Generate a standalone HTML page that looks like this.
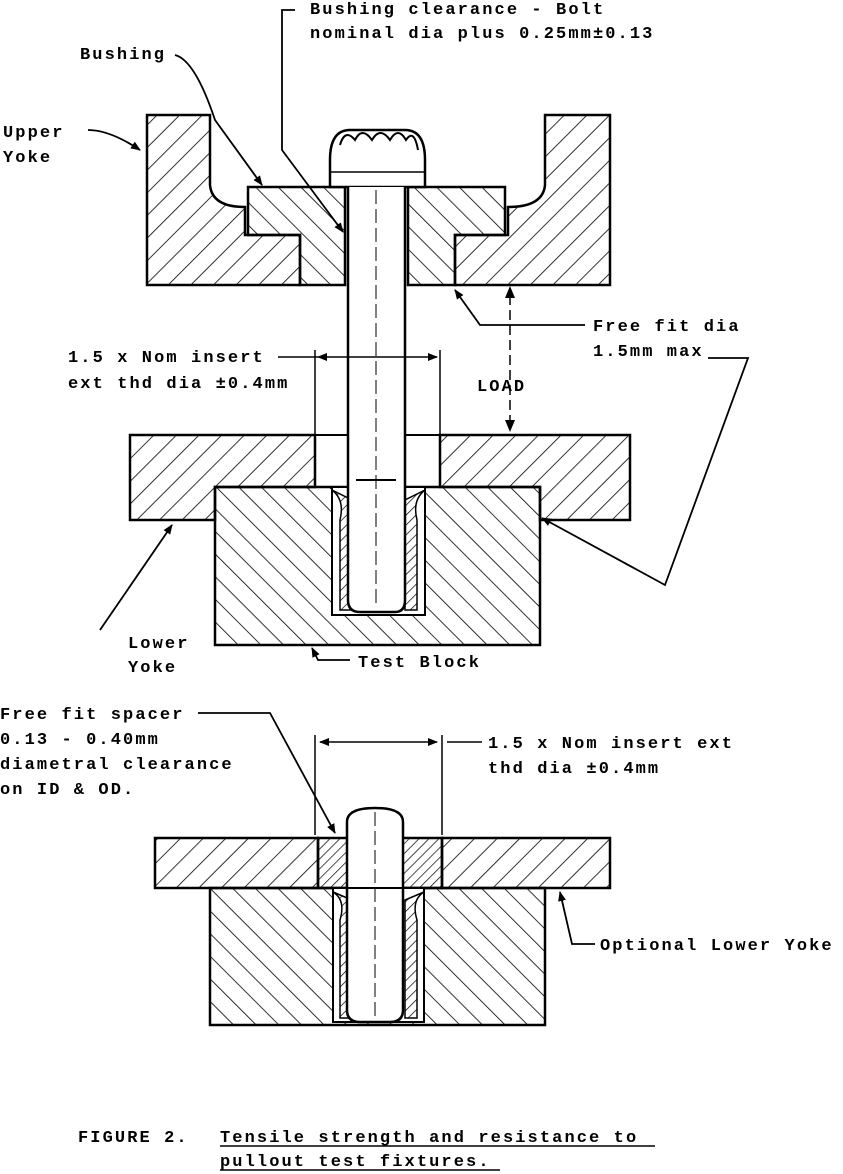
<!DOCTYPE html>
<html><head><meta charset="utf-8"><style>
html,body{margin:0;padding:0;background:#fff}
svg{display:block}
text{font-family:"Liberation Mono",monospace;font-size:17px;letter-spacing:2.1px;font-weight:bold;fill:#000}
</style></head><body>
<svg width="843" height="1174" viewBox="0 0 843 1174" xmlns="http://www.w3.org/2000/svg">
<defs>
<pattern id="hf" width="16" height="16" patternUnits="userSpaceOnUse" patternTransform="rotate(45)">
<line x1="0" y1="0" x2="0" y2="16" stroke="#000" stroke-width="1.6"/></pattern>
<pattern id="hb" width="16" height="16" patternUnits="userSpaceOnUse" patternTransform="rotate(-45)">
<line x1="0" y1="0" x2="0" y2="16" stroke="#000" stroke-width="1.6"/></pattern>
<pattern id="hs" width="7" height="7" patternUnits="userSpaceOnUse" patternTransform="rotate(45)">
<line x1="0" y1="0" x2="0" y2="7" stroke="#000" stroke-width="1.4"/></pattern>
<marker id="ar" markerWidth="10" markerHeight="10" refX="9" refY="5" orient="auto" markerUnits="userSpaceOnUse">
<path d="M0,1 L10,5 L0,9 Z" fill="#000"/></marker>
</defs>
<g stroke="#000" stroke-width="2.5" fill="url(#hf)">
<path d="M147,115 H210 V185 Q212,207 245,207 V235 H300 V285 H147 Z"/>
<path d="M610,115 H545 V185 Q543,207 508,207 V235 H455 V285 H610 Z"/>
</g>
<g stroke="#000" stroke-width="2.5" fill="url(#hb)">
<path d="M248,187 H345 V285 H300 V235 H248 Z"/>
<path d="M408,187 H505 V235 H455 V285 H408 Z"/>
</g>
<path d="M330,187 V160 Q330,130 350,130 H405 Q425,130 425,160 V187 Z" fill="#fff" stroke="#000" stroke-width="2.5"/>
<path d="M340,145 Q345,128 355,140 Q362,126 372,140 Q380,126 390,140 Q398,126 406,140 Q414,128 418,150" fill="none" stroke="#000" stroke-width="2"/>
<line x1="330" y1="172" x2="425" y2="172" stroke="#000" stroke-width="1.5"/>
<path d="M130,435 H315 V487 H215 V520 H130 Z" fill="url(#hf)" stroke="#000" stroke-width="2.5"/>
<path d="M440,435 H630 V520 H540 V487 H440 Z" fill="url(#hf)" stroke="#000" stroke-width="2.5"/>
<line x1="315" y1="435" x2="440" y2="435" stroke="#000" stroke-width="2"/>
<line x1="315" y1="350" x2="315" y2="487" stroke="#000" stroke-width="1.5"/>
<line x1="440" y1="350" x2="440" y2="487" stroke="#000" stroke-width="1.5"/>
<path d="M215,487 H540 V645 H215 Z" fill="url(#hb)" stroke="#000" stroke-width="2.5"/>
<path d="M332,487 H425 V615 H332 Z" fill="#fff" stroke="#000" stroke-width="2"/>
<path d="M332,490 Q345,500 340,520 V610 H352 V500 Z" fill="url(#hs)" stroke="#000" stroke-width="1.5"/>
<path d="M425,490 Q412,500 417,520 V610 H405 V500 Z" fill="url(#hs)" stroke="#000" stroke-width="1.5"/>
<path d="M348,187 V600 Q348,612 360,612 H395 Q405,612 405,600 V187" fill="#fff" stroke="#000" stroke-width="2.5"/>
<line x1="356" y1="480" x2="396" y2="480" stroke="#000" stroke-width="2"/>
<line x1="376" y1="190" x2="376" y2="605" stroke="#000" stroke-width="1" stroke-dasharray="14,5"/>
<line x1="330" y1="357" x2="437" y2="357" stroke="#000" stroke-width="1.5" marker-end="url(#ar)"/>
<line x1="330" y1="357" x2="318" y2="357" stroke="#000" stroke-width="1.5" marker-end="url(#ar)"/>
<line x1="278" y1="357" x2="318" y2="357" stroke="#000" stroke-width="1.5"/>
<line x1="510" y1="295" x2="510" y2="425" stroke="#000" stroke-width="1.5" stroke-dasharray="10,5"/>
<path d="M510,286 l-5,12 h10 z M510,432 l-5,-12 h10 z"/>
<g fill="none" stroke="#000" stroke-width="1.8">
<path d="M88,130 Q110,130 140,150" marker-end="url(#ar)"/>
<path d="M175,55 Q195,60 215,120 L262,185" marker-end="url(#ar)"/>
<path d="M295,10 H282 V150 L343,232" marker-end="url(#ar)"/>
<path d="M585,325 H480 L455,290" marker-end="url(#ar)"/>
<path d="M708,358 H748 L665,585 L542,518" marker-end="url(#ar)"/>
<path d="M100,630 L172,525" marker-end="url(#ar)"/>
<path d="M350,660 H318 L312,648" marker-end="url(#ar)"/>
</g>
<path d="M155,838 H318 V888 H155 Z" fill="url(#hf)" stroke="#000" stroke-width="2.5"/>
<path d="M442,838 H610 V888 H442 Z" fill="url(#hf)" stroke="#000" stroke-width="2.5"/>
<path d="M318,838 H442 V888 H318 Z" fill="url(#hs)" stroke="#000" stroke-width="2.5"/>
<path d="M210,888 H545 V1025 H210 Z" fill="url(#hb)" stroke="#000" stroke-width="2.5"/>
<path d="M333,888 H424 V1022 H333 Z" fill="#fff" stroke="#000" stroke-width="2"/>
<path d="M333,892 Q346,900 340,920 V1018 H352 V900 Z" fill="url(#hs)" stroke="#000" stroke-width="1.5"/>
<path d="M424,892 Q411,900 417,920 V1018 H405 V900 Z" fill="url(#hs)" stroke="#000" stroke-width="1.5"/>
<path d="M347,846 V822 Q347,808 375,808 Q403,808 403,822 V1010 Q403,1022 390,1022 H360 Q347,1022 347,1010 Z" fill="#fff" stroke="#000" stroke-width="2.5"/>
<line x1="347" y1="888" x2="403" y2="888" stroke="#000" stroke-width="2"/>
<line x1="375" y1="812" x2="375" y2="1018" stroke="#000" stroke-width="1" stroke-dasharray="14,5"/>
<line x1="315" y1="735" x2="315" y2="835" stroke="#000" stroke-width="1.5"/>
<line x1="442" y1="735" x2="442" y2="835" stroke="#000" stroke-width="1.5"/>
<line x1="330" y1="742" x2="320" y2="742" stroke="#000" stroke-width="1.5" marker-end="url(#ar)"/>
<line x1="330" y1="742" x2="437" y2="742" stroke="#000" stroke-width="1.5" marker-end="url(#ar)"/>
<line x1="447" y1="742" x2="482" y2="742" stroke="#000" stroke-width="1.5"/>
<g fill="none" stroke="#000" stroke-width="1.8">
<path d="M198,713 H270 L335,833" marker-end="url(#ar)"/>
<path d="M595,944 H572 L560,892" marker-end="url(#ar)"/>
</g>
<text x="310" y="14">Bushing clearance - Bolt</text>
<text x="310" y="38">nominal dia plus 0.25mm±0.13</text>
<text x="80" y="59">Bushing</text>
<text x="3" y="137">Upper</text>
<text x="3" y="162">Yoke</text>
<text x="593" y="331">Free fit dia</text>
<text x="593" y="356">1.5mm max</text>
<text x="68" y="362">1.5 x Nom insert</text>
<text x="68" y="388">ext thd dia ±0.4mm</text>
<text x="477" y="391">LOAD</text>
<text x="128" y="648">Lower</text>
<text x="128" y="672">Yoke</text>
<text x="358" y="667">Test Block</text>
<text x="0" y="719">Free fit spacer</text>
<text x="0" y="744">0.13 - 0.40mm</text>
<text x="0" y="769">diametral clearance</text>
<text x="0" y="794">on ID &amp; OD.</text>
<text x="488" y="748">1.5 x Nom insert ext</text>
<text x="488" y="773">thd dia ±0.4mm</text>
<text x="600" y="950">Optional Lower Yoke</text>
<text x="78" y="1142">FIGURE 2.</text>
<text x="220" y="1142">Tensile strength and resistance to</text>
<text x="220" y="1166">pullout test fixtures.</text>
<line x1="220" y1="1146" x2="655" y2="1146" stroke="#000" stroke-width="1.5"/>
<line x1="220" y1="1170" x2="500" y2="1170" stroke="#000" stroke-width="1.5"/>
</svg>
</body></html>
